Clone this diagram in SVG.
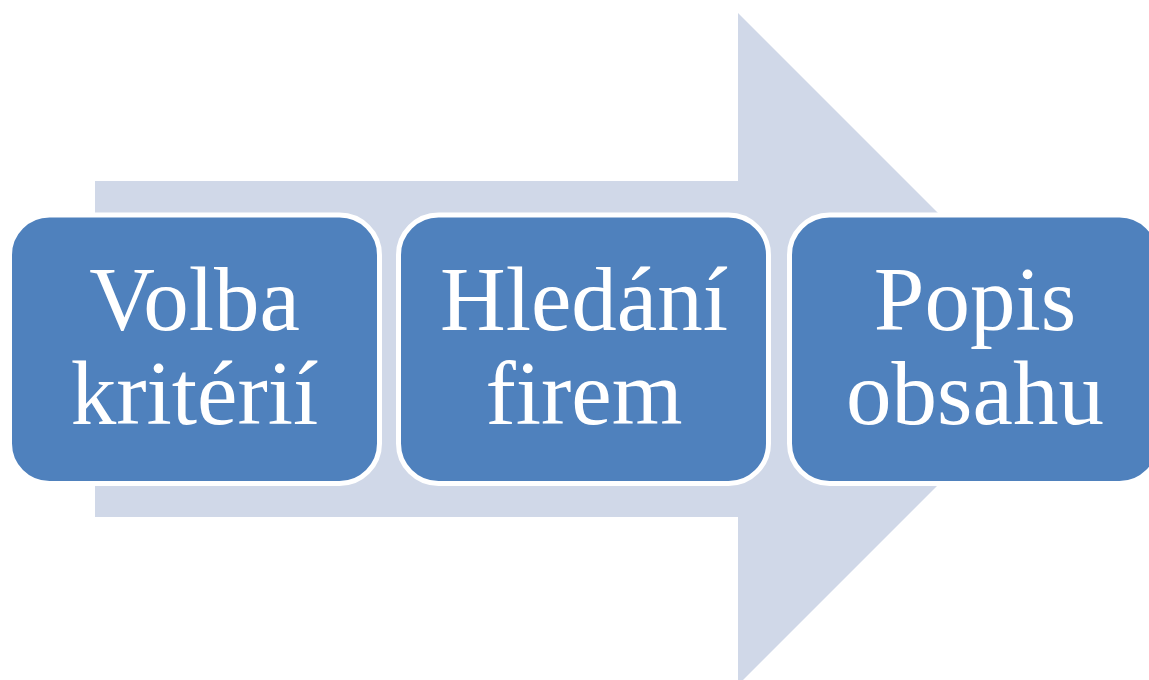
<svg xmlns="http://www.w3.org/2000/svg" width="1149" height="680" viewBox="0 0 1149 680">
<style>
.box{fill:#4F81BD;stroke:#FFFFFF;stroke-width:5}
.lbl{font-family:"Liberation Serif","Times New Roman",serif;font-size:91px;fill:#FFFFFF;text-anchor:middle}
</style>
<rect width="1149" height="680" fill="#FFFFFF"/>
<g id="arrow">
<polygon points="95,181 738,181 738,13 1074,349 738,685 738,517 95,517" fill="#D0D8E8"/>
</g>
<g id="connectors"></g>
<g id="node1">
<rect class="box" x="9.5" y="215" width="370" height="268.5" rx="40" ry="40"/>
<text class="lbl" x="194.5" y="330">Volba</text>
<text class="lbl" x="194.5" y="424">kritérií</text>
</g>
<g id="node2">
<rect class="box" x="398.5" y="215" width="370" height="268.5" rx="40" ry="40"/>
<text class="lbl" x="584" y="330">Hledání</text>
<text class="lbl" x="584" y="424">firem</text>
</g>
<g id="node3">
<rect class="box" x="789.5" y="215" width="370" height="268.5" rx="40" ry="40"/>
<text class="lbl" x="975" y="330">Popis</text>
<text class="lbl" x="975" y="424">obsahu</text>
</g>
</svg>
